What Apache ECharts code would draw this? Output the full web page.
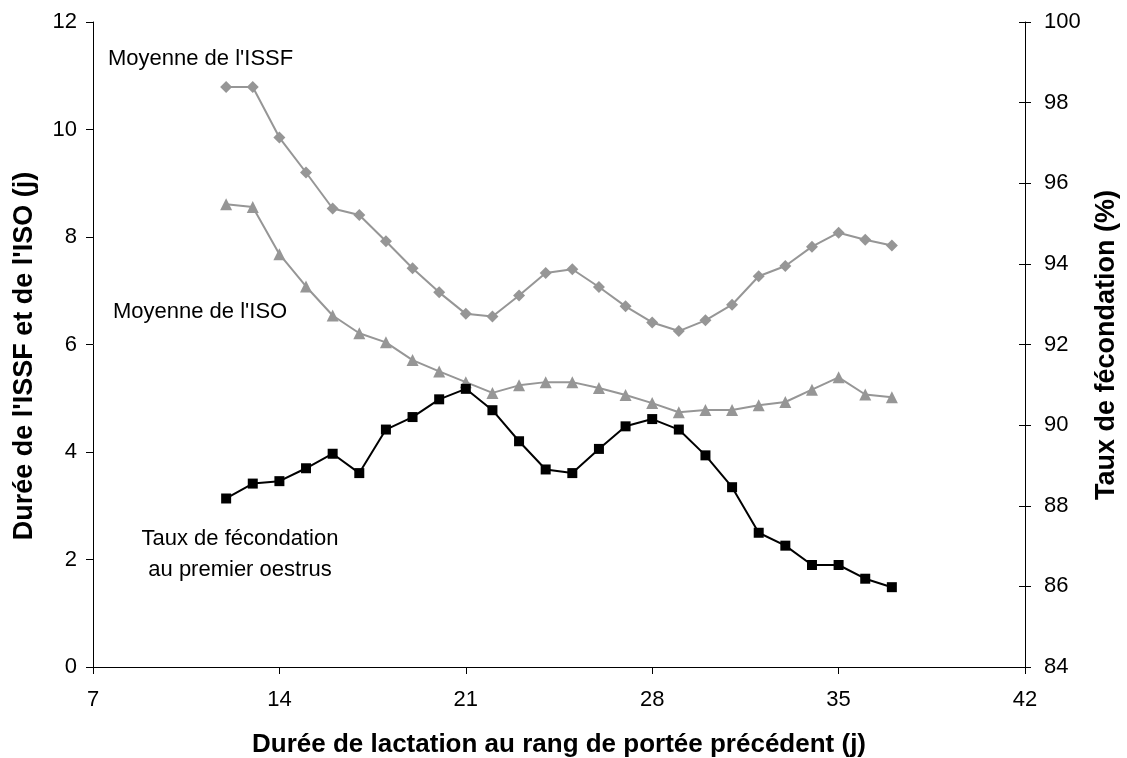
<!DOCTYPE html>
<html>
<head>
<meta charset="utf-8">
<script src="https://cdn.jsdelivr.net/npm/echarts@6/dist/echarts.min.js"></script>
<style>html,body{margin:0;padding:0;background:#fff}#c{width:1127px;height:758px}</style>
</head>
<body>
<div id="c"></div>
<script>
const days = [12,13,14,15,16,17,18,19,20,21,22,23,24,25,26,27,28,29,30,31,32,33,34,35,36,37];
const issf = [10.79,10.79,9.85,9.20,8.53,8.41,7.92,7.42,6.97,6.57,6.52,6.91,7.33,7.40,7.07,6.71,6.41,6.25,6.45,6.74,7.27,7.46,7.82,8.08,7.95,7.84];
const iso = [8.61,8.56,7.68,7.08,6.54,6.21,6.04,5.71,5.50,5.30,5.10,5.24,5.30,5.30,5.19,5.06,4.91,4.74,4.78,4.78,4.87,4.93,5.16,5.39,5.07,5.02];
const taux = [88.18,88.55,88.61,88.93,89.29,88.81,89.89,90.20,90.64,90.90,90.37,89.60,88.90,88.81,89.41,89.97,90.15,89.89,89.25,88.46,87.33,87.01,86.53,86.53,86.19,85.98];
const xTicks = {min:7, max:42, interval:7};
const leftTicks = {min:0, max:12, interval:2};
const rightTicks = {min:84, max:100, interval:2};

const pair = arr => days.map((d,i)=>[d,arr[i]]);
const FONT = '"Liberation Sans", Arial, sans-serif';
const chart = echarts.init(document.getElementById('c'));
const axisLine = {show:true, lineStyle:{color:'#000', width:1}};
chart.setOption({
  animation:false,
  backgroundColor:'#fff',
  grid:{left:93, right:102, top:22, bottom:91, containLabel:false, outerBoundsMode:'none'},
  xAxis:{
    type:'value', min:xTicks.min, max:xTicks.max, interval:xTicks.interval,
    axisLine:axisLine, axisTick:{show:true, length:7, lineStyle:{color:'#000'}},
    splitLine:{show:false},
    axisLabel:{color:'#000', fontSize:22, fontFamily:FONT, margin:22},
    name:"Durée de lactation au rang de portée précédent (j)",
    nameLocation:'middle', nameGap:65,
    nameTextStyle:{color:'#000', fontSize:26, fontWeight:'bold', fontFamily:FONT}
  },
  yAxis:[
    {
      type:'value', position:'left', min:leftTicks.min, max:leftTicks.max, interval:leftTicks.interval,
      axisLine:axisLine, axisTick:{show:true, length:7, lineStyle:{color:'#000'}},
      splitLine:{show:false},
      axisLabel:{color:'#000', fontSize:22, fontFamily:FONT, margin:16}
    },
    {
      type:'value', position:'right', min:rightTicks.min, max:rightTicks.max, interval:rightTicks.interval,
      axisLine:axisLine, axisTick:{show:true, length:6, lineStyle:{color:'#000'}},
      splitLine:{show:false},
      axisLabel:{color:'#000', fontSize:22, fontFamily:FONT, margin:19}
    },
    {
      type:'value', position:'right', min:rightTicks.min, max:rightTicks.max, interval:rightTicks.interval,
      axisLine:{show:false}, axisTick:{show:true, inside:true, length:6, lineStyle:{color:'#000'}},
      splitLine:{show:false}, axisLabel:{show:false}
    }
  ],
  series:[
    {type:'line', name:'ISSF', yAxisIndex:0, data:pair(issf), symbol:'diamond', symbolSize:12,
     lineStyle:{color:'#969696', width:2}, itemStyle:{color:'#969696'}},
    {type:'line', name:'ISO', yAxisIndex:0, data:pair(iso), symbol:'triangle', symbolSize:12,
     lineStyle:{color:'#969696', width:2}, itemStyle:{color:'#969696'}},
    {type:'line', name:'Taux', yAxisIndex:1, data:pair(taux), symbol:'rect', symbolSize:10,
     lineStyle:{color:'#000', width:2}, itemStyle:{color:'#000'}}
  ],
  graphic:[
    {type:'text', left:108, top:48, style:{text:"Moyenne de l'ISSF", fill:'#000', font:'22px '+FONT}},
    {type:'text', left:113, top:301, style:{text:"Moyenne de l'ISO", fill:'#000', font:'22px '+FONT}},
    {type:'text', x:240, y:528, style:{text:"Taux de fécondation", fill:'#000', font:'22px '+FONT, textAlign:'center', textVerticalAlign:'top'}},
    {type:'text', x:240, y:559, style:{text:"au premier oestrus", fill:'#000', font:'22px '+FONT, textAlign:'center', textVerticalAlign:'top'}},
    {type:'text', x:25, y:356, rotation:Math.PI/2, style:{text:"Durée de l'ISSF et de l'ISO (j)", fill:'#000', font:'bold 27px '+FONT, textAlign:'center', textVerticalAlign:'middle'}},
    {type:'text', x:1107, y:345, rotation:Math.PI/2, style:{text:"Taux de fécondation (%)", fill:'#000', font:'bold 27px '+FONT, textAlign:'center', textVerticalAlign:'middle'}}
  ]
});
</script>
</body>
</html>
